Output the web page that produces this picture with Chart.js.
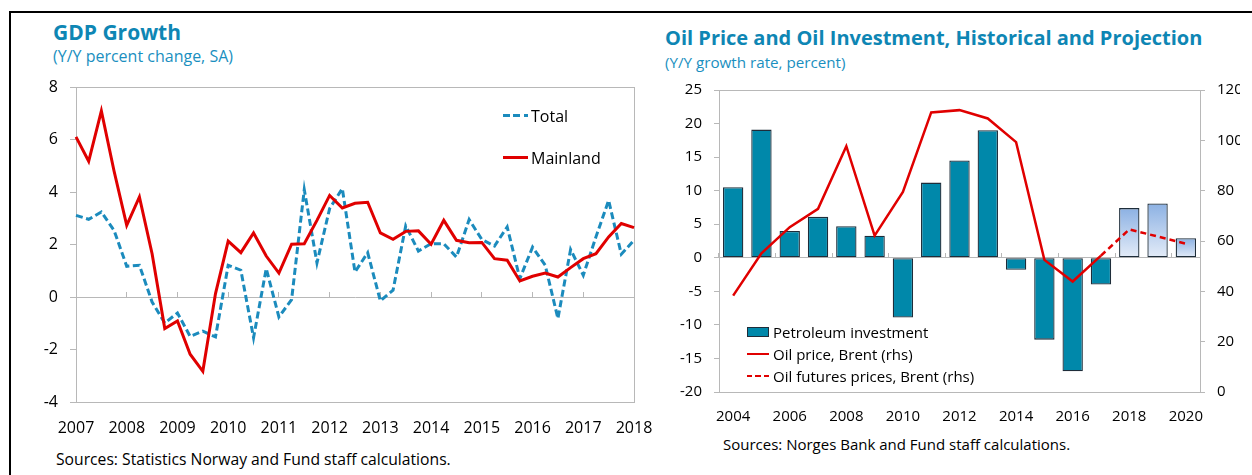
<!DOCTYPE html>
<html>
<head>
<meta charset="utf-8">
<script src="https://cdn.jsdelivr.net/npm/chart.js@4.4.1/dist/chart.umd.min.js"></script>
<style>
  body { margin: 0; background: #fff; font-family: "Open Sans", sans-serif; }
  #page { position: relative; width: 1252px; height: 475px; overflow: hidden; }
  .frame { position: absolute; left: 9px; top: 11px; width: 1250px; height: 480px; border-top: 2px solid #000; border-left: 2px solid #000; }
  .title { position: absolute; font-weight: bold; color: #0e86b4; white-space: nowrap; line-height: 1; }
  .sub { position: absolute; line-height: 1; color: #1a8fc0; white-space: nowrap; }
  .src { position: absolute; line-height: 1; color: #000; white-space: nowrap; }
  .lg { position: absolute; white-space: nowrap; color: #000; line-height: 20px; }
  .sw { position: absolute; }
  canvas { position: absolute; }
</style>
</head>
<body>
<div id="page">
  <div class="frame"></div>

  <div class="title" style="left:53px; top:22px; font-size:21px;">GDP Growth</div>
  <div class="sub" style="left:53px; top:48px; font-size:16px;">(Y/Y percent change, SA)</div>
  <div class="src" style="left:56px; top:452px; font-size:15.7px;">Sources: Statistics Norway and Fund staff calculations.</div>

  <div class="title" style="left:665px; top:28px; font-size:20px;">Oil Price and Oil Investment, Historical and Projection</div>
  <div class="sub" style="left:665px; top:55px; font-size:15.2px;">(Y/Y growth rate, percent)</div>
  <div class="src" style="left:723px; top:437px; font-size:15px;">Sources: Norges Bank and Fund staff calculations.</div>

  <canvas id="gdp" width="660" height="390" style="left:0px; top:70px;"></canvas>
  <canvas id="oil" width="592" height="390" style="left:660px; top:70px;"></canvas>

  <!-- legend, left chart -->
  <div class="sw" style="left:503px; top:114px; width:25px; height:3px; background:repeating-linear-gradient(to right,#1b8bbd 0 7px,transparent 7px 10.5px);"></div>
  <div class="lg" style="left:531px; top:106px; font-size:16px;">Total</div>
  <div class="sw" style="left:503px; top:156px; width:25px; height:3px; background:#e00000;"></div>
  <div class="lg" style="left:531px; top:148px; font-size:16px;">Mainland</div>

  <!-- legend, right chart -->
  <div class="sw" style="left:747px; top:327px; width:22px; height:10px; box-sizing:border-box; background:#0088aa; border:1px solid #1e2d3a;"></div>
  <div class="lg" style="left:773px; top:322px; font-size:15px;">Petroleum investment</div>
  <div class="sw" style="left:747px; top:353px; width:22px; height:2px; background:#e00000;"></div>
  <div class="lg" style="left:773px; top:344px; font-size:15px;">Oil price, Brent (rhs)</div>
  <div class="sw" style="left:747px; top:375px; width:22px; height:2px; background:repeating-linear-gradient(to right,#e00000 0 5px,transparent 5px 8.5px);"></div>
  <div class="lg" style="left:773px; top:366px; font-size:15px;">Oil futures prices, Brent (rhs)</div>
</div>

<script>
// ---- GDP growth, quarterly, y/y % ----
const quarters = [
  '2007Q1','2007Q2','2007Q3','2007Q4','2008Q1','2008Q2','2008Q3','2008Q4',
  '2009Q1','2009Q2','2009Q3','2009Q4','2010Q1','2010Q2','2010Q3','2010Q4',
  '2011Q1','2011Q2','2011Q3','2011Q4','2012Q1','2012Q2','2012Q3','2012Q4',
  '2013Q1','2013Q2','2013Q3','2013Q4','2014Q1','2014Q2','2014Q3','2014Q4',
  '2015Q1','2015Q2','2015Q3','2015Q4','2016Q1','2016Q2','2016Q3','2016Q4',
  '2017Q1','2017Q2','2017Q3','2017Q4','2018Q1'
];
const gdpYearTicks = ['2007','2008','2009','2010','2011','2012','2013','2014','2015','2016','2017','2018'];
const gdpTotal = [
  3.11, 2.96, 3.24, 2.54, 1.17, 1.21, -0.19, -0.99, -0.61, -1.50, -1.30, -1.52,
  1.21, 1.02, -1.55, 1.08, -0.76, -0.10, 4.09, 1.30, 3.37, 4.13, 0.95, 1.69,
  -0.15, 0.26, 2.71, 1.75, 2.03, 2.03, 1.52, 2.95, 2.19, 1.94, 2.67, 0.70,
  1.90, 1.21, -0.82, 1.81, 0.83, 2.29, 3.68, 1.63, 2.16
];
const gdpMainland = [
  6.10, 5.17, 7.09, 4.80, 2.73, 3.81, 1.65, -1.20, -0.91, -2.18, -2.83, 0.13,
  2.13, 1.69, 2.44, 1.56, 0.91, 2.01, 2.03, 2.92, 3.87, 3.39, 3.57, 3.61,
  2.44, 2.20, 2.50, 2.52, 2.01, 2.92, 2.16, 2.07, 2.08, 1.46, 1.40, 0.61,
  0.79, 0.91, 0.76, 1.12, 1.46, 1.65, 2.29, 2.80, 2.64
];

// ---- oil price and petroleum investment, annual ----
const oilYears = ['2004','2005','2006','2007','2008','2009','2010','2011','2012','2013','2014','2015','2016','2017','2018','2019','2020'];
const petroInvestment = [10.5, 19.1, 4.0, 6.1, 4.7, 3.3, -8.9, 11.2, 14.5, 19.0, -1.8, -12.2, -16.9, -4.0, 7.4, 8.1, 2.9];
const brentPrice = [38.3, 55.1, 65.5, 72.8, 97.7, 62.1, 79.5, 111.1, 112.0, 108.7, 99.3, 52.5, 43.9, 54.2, null, null, null];
const brentFutures = [null, null, null, null, null, null, null, null, null, null, null, null, null, 54.2, 64.6, 61.8, 58.9];
const firstProjection = 14; // 2018 onwards are projections

Chart.defaults.font.family = "'Open Sans', sans-serif";
Chart.defaults.color = '#000';

const FRAME = '#b8b8b8';
const TEAL = '#0088aa';
const NONE = 'rgba(0,0,0,0)';

// gray box around the plot area
const plotFrame = {
  id: 'plotFrame',
  beforeDatasetsDraw(chart) {
    const { ctx, chartArea: a } = chart;
    ctx.save();
    ctx.strokeStyle = FRAME;
    ctx.lineWidth = 1;
    ctx.strokeRect(Math.round(a.left) + 0.5, Math.round(a.top) + 0.5,
      Math.round(a.right - a.left), Math.round(a.bottom - a.top));
    ctx.restore();
  }
};

// label gap made of invisible tick marks (ticks.padding would also pad the chart area)
function gap(len) {
  return { display: true, drawOnChartArea: false, drawTicks: true, tickLength: len, color: NONE, tickColor: NONE };
}

// small tick-only axes, placed at a data value so the marks point inwards
function tickAxis(axis, position, tickLength, extra) {
  return Object.assign({
    axis: axis,
    position: position,
    border: { display: false },
    grid: { drawOnChartArea: false, drawTicks: true, tickLength: tickLength, color: FRAME, tickColor: FRAME },
    ticks: { display: false }
  }, extra);
}

new Chart(document.getElementById('gdp'), {
  type: 'line',
  data: {
    labels: quarters,
    datasets: [
      {
        label: 'Mainland', data: gdpMainland,
        borderColor: '#e00000', borderWidth: 3, pointRadius: 0, tension: 0, order: 0
      },
      {
        label: 'Total', data: gdpTotal,
        borderColor: '#1b8bbd', borderWidth: 3, borderDash: [7, 3.5], pointRadius: 0, tension: 0, order: 1
      }
    ]
  },
  options: {
    responsive: false,
    animation: false,
    events: [],
    layout: { padding: { left: 40, right: 26, top: 17, bottom: 18 } },
    plugins: { legend: { display: false }, tooltip: { enabled: false } },
    scales: {
      x: {
        type: 'category',
        grid: gap(17),
        border: { display: false },
        afterFit(s) { s.height = 40; },
        ticks: {
          autoSkip: false, maxRotation: 0, padding: 0, font: { size: 16 },
          callback: (v, i) => (i % 4 === 0 ? gdpYearTicks[i / 4] : '')
        }
      },
      y: {
        min: -4, max: 8,
        grid: gap(18),
        border: { display: false },
        afterFit(s) { s.width = 36; },
        ticks: { stepSize: 2, padding: 0, font: { size: 16 } }
      },
      xZero: {
        type: 'category',
        axis: 'x',
        position: { y: 0 },
        border: { display: true, color: FRAME, width: 1 },
        grid: {
          drawOnChartArea: false, drawTicks: true, tickLength: -6,
          tickColor: (c) => (c.index % 4 === 0 ? FRAME : NONE)
        },
        ticks: { display: false, autoSkip: false }
      },
      yTicks: tickAxis('y', { x: 0 }, 6, { type: 'linear', min: -4, max: 8, ticks: { display: false, stepSize: 2 } })
    }
  },
  plugins: [plotFrame]
});

function projectionFill(c) {
  if (c.dataIndex === undefined || c.dataIndex < firstProjection) return TEAL;
  const y = c.chart.scales.y;
  if (!y || c.raw == null) return '#a9c4ea';
  const top = y.getPixelForValue(c.raw);
  const base = y.getPixelForValue(0);
  const g = c.chart.ctx.createLinearGradient(0, top, 0, base);
  g.addColorStop(0, '#8cb1e3');
  g.addColorStop(1, '#e4ecf8');
  return g;
}

new Chart(document.getElementById('oil'), {
  type: 'bar',
  data: {
    labels: oilYears,
    datasets: [
      {
        type: 'line', label: 'Oil price, Brent (rhs)', data: brentPrice, yAxisID: 'y2',
        borderColor: '#e00000', borderWidth: 2.5, pointRadius: 0, tension: 0, order: 0
      },
      {
        type: 'line', label: 'Oil futures prices, Brent (rhs)', data: brentFutures, yAxisID: 'y2',
        borderColor: '#e00000', borderWidth: 2.5, borderDash: [6, 4], pointRadius: 0, tension: 0, order: 1
      },
      {
        type: 'bar', label: 'Petroleum investment', data: petroInvestment, yAxisID: 'y',
        backgroundColor: projectionFill, borderColor: '#1e2d3a', borderWidth: 1.3,
        borderSkipped: false, categoryPercentage: 1, barPercentage: 0.72, order: 2
      }
    ]
  },
  options: {
    responsive: false,
    animation: false,
    events: [],
    layout: { padding: { left: 19, right: 12, top: 20, bottom: 28 } },
    plugins: { legend: { display: false }, tooltip: { enabled: false } },
    scales: {
      x: {
        type: 'category',
        grid: gap(16),
        border: { display: false },
        afterFit(s) { s.height = 40; },
        ticks: {
          autoSkip: false, maxRotation: 0, padding: 0, font: { size: 15 },
          callback: (v, i) => (i % 2 === 0 ? oilYears[i] : '')
        }
      },
      y: {
        position: 'left',
        min: -20, max: 25,
        grid: gap(17),
        border: { display: false },
        afterFit(s) { s.width = 40; },
        ticks: { stepSize: 5, padding: 0, font: { size: 15 } }
      },
      y2: {
        position: 'right',
        min: 0, max: 120,
        grid: gap(17),
        border: { display: false },
        afterFit(s) { s.width = 40; },
        ticks: { stepSize: 20, padding: 0, font: { size: 15 } }
      },
      xZero: {
        type: 'category',
        axis: 'x',
        position: { y: 0 },
        border: { display: true, color: FRAME, width: 1 },
        grid: {
          offset: true, drawOnChartArea: false, drawTicks: true, tickLength: -5,
          tickColor: (c) => (c.index % 2 === 0 ? FRAME : NONE)
        },
        ticks: { display: false, autoSkip: false }
      },
      yTicksL: tickAxis('y', { x: -0.5 }, 5, { type: 'linear', min: -20, max: 25, ticks: { display: false, stepSize: 5 } }),
      yTicksR: tickAxis('y', { x: 16.5 }, -5, { type: 'linear', min: 0, max: 120, ticks: { display: false, stepSize: 20 } })
    }
  },
  plugins: [plotFrame]
});
</script>
</body>
</html>
